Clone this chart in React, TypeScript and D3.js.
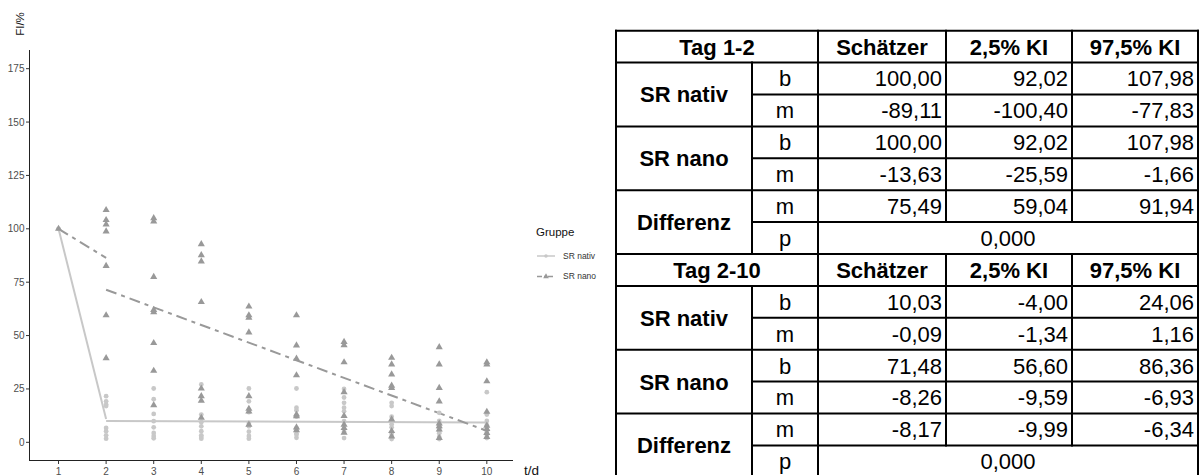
import React from "react";
import * as d3 from "d3";

// Measurement days
const days = [1, 2, 3, 4, 5, 6, 7, 8, 9, 10];

// FI/% per day, group "SR nano" (triangles)
const nanoValues: number[][] = [
  [100],
  [108.8, 104.1, 102.1, 98.8, 82.6, 59.5, 39.4],
  [105, 103.5, 77.5, 62, 61, 46.5, 33.5, 17.4],
  [92.8, 87.7, 84.7, 65.7, 25.2, 21.6, 19.5, 11.5],
  [63.6, 59.5, 58.4, 51.5, 21.6, 15.7, 14.5, 8.3],
  [59.5, 45.4, 39.2, 31.4, 13, 12.2, 7, 5.7],
  [47, 45.5, 37.5, 23.5, 12.4, 8.3, 6.7, 4.5],
  [39.6, 36.5, 31.8, 26.5, 25.5, 10.7, 5.3, 2.8],
  [44.6, 36.5, 25.5, 19.2, 8.8, 7.5, 6, 2.1],
  [37.5, 36.5, 28.6, 14.3, 7.8, 6.3, 4.4, 2.5],
];

// FI/% per day, group "SR nativ" (circles)
const nativValues: number[][] = [
  [100],
  [21.6, 19.2, 17.7, 17, 6.7, 5.2, 3.3, 1.7],
  [25.2, 20.2, 13.3, 9.9, 7, 4.4, 3, 1.9],
  [27.1, 13, 9.4, 7.5, 5.2, 3.3, 2.5, 1.7],
  [25.2, 19.2, 14.1, 9.1, 7.5, 5, 3, 1.7],
  [25.2, 16.2, 15, 12, 6.5, 4.1, 3.5, 2.1],
  [25, 21, 18.5, 16.2, 14.5, 9.9, 5, 2],
  [18.5, 17, 12, 8.5, 7, 4, 2.5, 1.5],
  [13.8, 10, 8, 6.6, 5, 4.3, 2.5, 1.5],
  [23.5, 13, 10, 8, 6, 5, 3.5, 2],
];

// Regression estimates: [Schätzer, 2,5% KI, 97,5% KI]
const tag12NativB = [100.0, 92.02, 107.98];
const tag12NativM = [-89.11, -100.4, -77.83];
const tag12NanoB = [100.0, 92.02, 107.98];
const tag12NanoM = [-13.63, -25.59, -1.66];
const tag12DiffM = [75.49, 59.04, 91.94];
const tag12P = "0,000";

const tag210NativB = [10.03, -4.0, 24.06];
const tag210NativM = [-0.09, -1.34, 1.16];
const tag210NanoB = [71.48, 56.6, 86.36];
const tag210NanoM = [-8.26, -9.59, -6.93];
const tag210DiffM = [-8.17, -9.99, -6.34];
const tag210P = "0,000";

const tableHeader = ["Schätzer", "2,5% KI", "97,5% KI"];
const yTicks = [0, 25, 50, 75, 100, 125, 150, 175];
const groups = ["SR nativ", "SR nano"];

const FONT = "'Liberation Sans', Arial, sans-serif";
const NATIV_COLOR = "#c8c8c8";
const NANO_COLOR = "#999999";

const fmt = (v: number) => v.toFixed(2).replace(".", ",");

function Chart() {
  const x = d3.scaleLinear().domain([0.39, 10.55]).range([29.5, 513]);
  const y = d3.scaleLinear().domain([-8.75, 183.75]).range([461, 50]);

  const line = d3
    .line<[number, number]>()
    .x((d) => x(d[0]))
    .y((d) => y(d[1]));

  // Piecewise fitted lines: day 1-2 and day 2-10
  const seg = (b: number, m: number, t0: number, t1: number): [number, number][] => [
    [t0, b],
    [t1, b + m * (t1 - t0)],
  ];

  const tri = d3.symbol().type(d3.symbolTriangle).size(22)() as string;
  const circ = d3.symbol().type(d3.symbolCircle).size(18)() as string;
  const triSmall = d3.symbol().type(d3.symbolTriangle).size(14)() as string;
  const circSmall = d3.symbol().type(d3.symbolCircle).size(10)() as string;

  const dash = "11,5,4,5";

  return (
    <g fontFamily={FONT}>
      {/* fitted lines */}
      <path d={line(seg(tag12NativB[0], tag12NativM[0], 1, 2)) ?? ""} fill="none" stroke={NATIV_COLOR} strokeWidth={2} />
      <path d={line(seg(tag210NativB[0], tag210NativM[0], 2, 10)) ?? ""} fill="none" stroke={NATIV_COLOR} strokeWidth={2} />
      <path d={line(seg(tag12NanoB[0], tag12NanoM[0], 1, 2)) ?? ""} fill="none" stroke={NANO_COLOR} strokeWidth={2} strokeDasharray={dash} />
      <path d={line(seg(tag210NanoB[0], tag210NanoM[0], 2, 10)) ?? ""} fill="none" stroke={NANO_COLOR} strokeWidth={2} strokeDasharray={dash} />

      {/* observations */}
      {days.map((d, i) =>
        nativValues[i].map((v, j) => (
          <path key={`c${i}-${j}`} d={circ} transform={`translate(${x(d)},${y(v)})`} fill={NATIV_COLOR} />
        ))
      )}
      {days.map((d, i) =>
        nanoValues[i].map((v, j) => (
          <path key={`t${i}-${j}`} d={tri} transform={`translate(${x(d)},${y(v)})`} fill={NANO_COLOR} />
        ))
      )}

      {/* axes */}
      <line x1={29.5} x2={29.5} y1={50} y2={460.5} stroke="#222" strokeWidth={1} />
      <line x1={29} x2={513} y1={460.5} y2={460.5} stroke="#222" strokeWidth={1} />
      {yTicks.map((t) => (
        <g key={`y${t}`}>
          <line x1={26} x2={29.5} y1={y(t)} y2={y(t)} stroke="#333" />
          <text x={24.5} y={y(t)} dy="0.35em" textAnchor="end" fontSize={10} fill="#4d4d4d">
            {t}
          </text>
        </g>
      ))}
      {days.map((d) => (
        <g key={`x${d}`}>
          <line x1={x(d)} x2={x(d)} y1={460.5} y2={464} stroke="#333" />
          <text x={x(d)} y={475.3} textAnchor="middle" fontSize={10} fill="#4d4d4d">
            {d}
          </text>
        </g>
      ))}
      <text transform="translate(24,24) rotate(-90)" textAnchor="middle" fontSize={11.5} fill="#111">
        FI/%
      </text>
      <text x={524} y={475} fontSize={13.5} fill="#111">
        t/d
      </text>

      {/* legend */}
      <text x={536} y={236} fontSize={11.5} fill="#111">
        Gruppe
      </text>
      {groups.map((g, i) => {
        const ly = 256 + i * 20.5;
        const isNano = i === 1;
        const col = isNano ? NANO_COLOR : NATIV_COLOR;
        return (
          <g key={g}>
            <line x1={537} x2={555} y1={ly} y2={ly} stroke={col} strokeWidth={1.5} strokeDasharray={isNano ? "5,2,2,2" : undefined} />
            <path d={isNano ? triSmall : circSmall} transform={`translate(546,${ly})`} fill={col} />
            <text x={563} y={ly} dy="0.35em" fontSize={8.5} fill="#333">
              {g}
            </text>
          </g>
        );
      })}
    </g>
  );
}

function Table() {
  const cols = [616, 752, 818, 946, 1072, 1198];
  const top = 30.7;
  const rh = 31.9;
  const fs = 22;
  const rowY = (r: number) => top + r * rh;
  const base = (r: number) => rowY(r) + rh / 2 + fs * 0.36;

  type Block = {
    title: string;
    start: number;
    nativ: [number[], number[]];
    nano: [number[], number[]];
    diff: number[];
    p: string;
  };
  const blocks: Block[] = [
    { title: "Tag 1-2", start: 0, nativ: [tag12NativB, tag12NativM], nano: [tag12NanoB, tag12NanoM], diff: tag12DiffM, p: tag12P },
    { title: "Tag 2-10", start: 7, nativ: [tag210NativB, tag210NativM], nano: [tag210NanoB, tag210NanoM], diff: tag210DiffM, p: tag210P },
  ];

  const sw = 2;
  const lines: JSX.Element[] = [];
  const texts: JSX.Element[] = [];
  const H = (yy: number, x1: number, x2: number, k: string) =>
    lines.push(<line key={k} x1={x1 - 1} x2={x2 + 1} y1={yy} y2={yy} stroke="#000" strokeWidth={sw} />);
  const V = (xx: number, y1: number, y2: number, k: string) =>
    lines.push(<line key={k} x1={xx} x2={xx} y1={y1 - 1} y2={y2 + 1} stroke="#000" strokeWidth={sw} />);

  // outer frame
  H(top, cols[0], cols[5], "top");
  V(cols[0], top, 480, "left");
  V(cols[5], top, 480, "right");

  blocks.forEach((b, bi) => {
    const s = b.start;
    // header row
    texts.push(
      <text key={`t${bi}`} x={(cols[0] + cols[2]) / 2} y={base(s)} textAnchor="middle" fontWeight="bold" fontSize={fs}>
        {b.title}
      </text>
    );
    tableHeader.forEach((h, c) =>
      texts.push(
        <text key={`h${bi}-${c}`} x={(cols[c + 2] + cols[c + 3]) / 2} y={base(s)} textAnchor="middle" fontWeight="bold" fontSize={fs}>
          {h}
        </text>
      )
    );
    [2, 3, 4].forEach((c) => V(cols[c], rowY(s), rowY(s + 1), `hv${bi}-${c}`));
    H(rowY(s + 1), cols[0], cols[5], `hh${bi}`);

    const groupsRows: [string, number[][]][] = [
      ["SR nativ", [b.nativ[0], b.nativ[1]]],
      ["SR nano", [b.nano[0], b.nano[1]]],
    ];
    groupsRows.forEach(([name, vals], gi) => {
      const r0 = s + 1 + gi * 2;
      texts.push(
        <text key={`g${bi}-${gi}`} x={(cols[0] + cols[1]) / 2} y={rowY(r0) + rh + fs * 0.36} textAnchor="middle" fontWeight="bold" fontSize={fs}>
          {name}
        </text>
      );
      ["b", "m"].forEach((lab, li) => {
        const r = r0 + li;
        texts.push(
          <text key={`l${bi}-${gi}-${li}`} x={(cols[1] + cols[2]) / 2} y={base(r)} textAnchor="middle" fontSize={fs}>
            {lab}
          </text>
        );
        vals[li].forEach((v, c) =>
          texts.push(
            <text key={`v${bi}-${gi}-${li}-${c}`} x={cols[c + 3] - 4} y={base(r)} textAnchor="end" fontSize={fs}>
              {fmt(v)}
            </text>
          )
        );
        [1, 2, 3, 4].forEach((c) => V(cols[c], rowY(r), rowY(r + 1), `dv${bi}-${gi}-${li}-${c}`));
      });
      H(rowY(r0 + 1), cols[1], cols[5], `mh${bi}-${gi}`);
      H(rowY(r0 + 2), cols[0], cols[5], `eh${bi}-${gi}`);
    });

    // Differenz block
    const rd = s + 5;
    texts.push(
      <text key={`d${bi}`} x={(cols[0] + cols[1]) / 2} y={rowY(rd) + rh + fs * 0.36} textAnchor="middle" fontWeight="bold" fontSize={fs}>
        Differenz
      </text>
    );
    texts.push(
      <text key={`dm${bi}`} x={(cols[1] + cols[2]) / 2} y={base(rd)} textAnchor="middle" fontSize={fs}>
        m
      </text>
    );
    b.diff.forEach((v, c) =>
      texts.push(
        <text key={`dv${bi}-${c}`} x={cols[c + 3] - 4} y={base(rd)} textAnchor="end" fontSize={fs}>
          {fmt(v)}
        </text>
      )
    );
    [1, 2, 3, 4].forEach((c) => V(cols[c], rowY(rd), rowY(rd + 1), `ddv${bi}-${c}`));
    H(rowY(rd + 1), cols[1], cols[5], `dph${bi}`);
    texts.push(
      <text key={`p${bi}`} x={(cols[1] + cols[2]) / 2} y={base(rd + 1)} textAnchor="middle" fontSize={fs}>
        p
      </text>
    );
    texts.push(
      <text key={`pv${bi}`} x={(cols[2] + cols[5]) / 2} y={base(rd + 1)} textAnchor="middle" fontSize={fs}>
        {b.p}
      </text>
    );
    [1, 2].forEach((c) => V(cols[c], rowY(rd + 1), rowY(rd + 2), `pv${bi}-${c}`));
    if (bi === 0) H(rowY(rd + 2), cols[0], cols[5], `end${bi}`);
  });

  return (
    <g fontFamily={FONT} fill="#000">
      <rect x={cols[0]} y={top} width={cols[5] - cols[0]} height={480 - top} fill="#fff" />
      {texts}
      {lines}
    </g>
  );
}

export default function App() {
  return (
    <svg
      width={1201}
      height={475}
      viewBox="0 0 1201 475"
      style={{ position: "absolute", left: 0, top: 0, background: "#fff" }}
    >
      <rect width={1201} height={475} fill="#fff" />
      <Chart />
      <Table />
    </svg>
  );
}
